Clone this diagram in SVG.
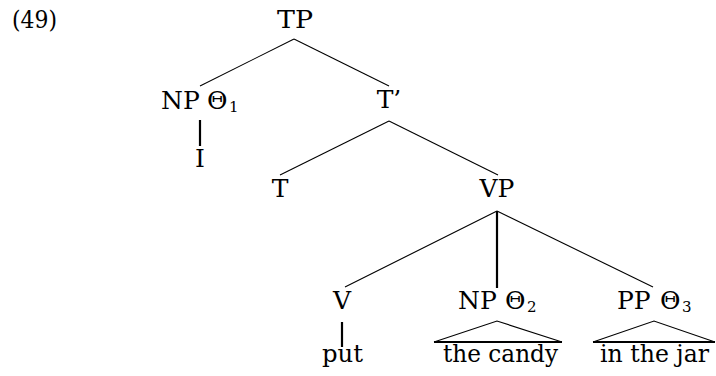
<svg xmlns="http://www.w3.org/2000/svg" width="716" height="376" viewBox="0 0 716 376">
<style>
text{font-family:"DejaVu Serif","Liberation Serif",serif;font-size:25px;fill:#000}
.sub{font-size:15px}
.thin{stroke:#000;stroke-width:1.1;fill:none}
.thick{stroke:#000;stroke-width:2.2;fill:none}
</style>
<rect width="716" height="376" fill="#fff"/>
<text id="ex" x="12" y="28" textLength="45" lengthAdjust="spacingAndGlyphs">(49)</text>
<g id="connectors">
<line class="thin" x1="294" y1="39" x2="200" y2="86"/>
<line class="thin" x1="294" y1="39" x2="389" y2="86"/>
<line class="thick" x1="200" y1="120" x2="200" y2="146"/>
<line class="thin" x1="389" y1="121" x2="280" y2="175"/>
<line class="thin" x1="389" y1="121" x2="498" y2="175"/>
<line class="thin" x1="497" y1="211" x2="345" y2="287"/>
<line class="thick" x1="497" y1="211" x2="497" y2="288"/>
<line class="thin" x1="497" y1="211" x2="653" y2="287"/>
<line class="thick" x1="342" y1="322" x2="342" y2="347"/>
</g>
<g id="TP"><text x="277" y="28" textLength="36" lengthAdjust="spacingAndGlyphs">TP</text></g>
<g id="NP1"><text x="161" y="109">NP<tspan x="207">Θ</tspan><tspan class="sub" x="229" dy="3">1</tspan></text></g>
<g id="I"><text x="200" y="167" text-anchor="middle">I</text></g>
<g id="Tbar"><text x="389" y="108" text-anchor="middle">T’</text></g>
<g id="T"><text x="280" y="197" text-anchor="middle">T</text></g>
<g id="VP"><text x="497" y="197" text-anchor="middle">VP</text></g>
<g id="V"><text x="342" y="309" text-anchor="middle">V</text></g>
<g id="put"><text x="322" y="362" textLength="41" lengthAdjust="spacingAndGlyphs">put</text></g>
<g id="NP2"><text x="458" y="309">NP<tspan x="505">Θ</tspan><tspan class="sub" x="527" dy="3">2</tspan></text>
<path class="thin" d="M434 342 L497 321 L562 342"/><line class="thick" x1="434" y1="342" x2="562" y2="342"/>
<text x="443" y="362" textLength="115" lengthAdjust="spacingAndGlyphs">the candy</text></g>
<g id="PP3"><text x="617" y="309">PP<tspan x="660">Θ</tspan><tspan class="sub" x="682" dy="3">3</tspan></text>
<path class="thin" d="M593 342 L654 321 L715 342"/><line class="thick" x1="593" y1="342" x2="715" y2="342"/>
<text x="600" y="362" textLength="109" lengthAdjust="spacingAndGlyphs">in the jar</text></g>
</svg>
